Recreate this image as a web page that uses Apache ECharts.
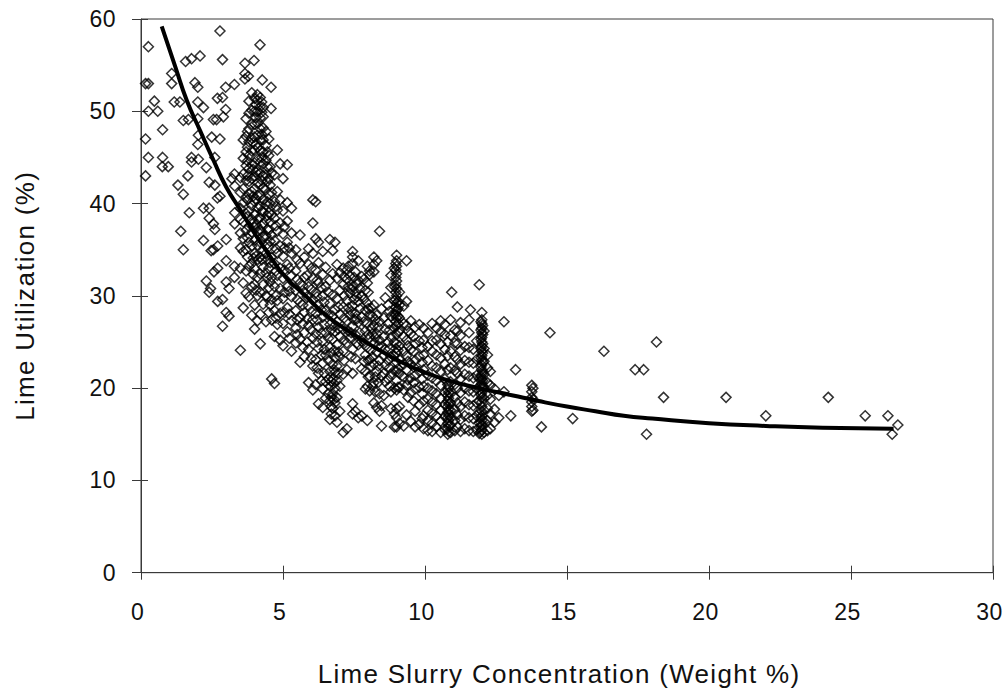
<!DOCTYPE html>
<html><head><meta charset="utf-8">
<style>html,body{margin:0;padding:0;background:#fff}#c{width:1005px;height:698px}
text[style*="26px"]{letter-spacing:1.3px}
text[style*="23px"]{letter-spacing:.4px}</style>
<script src="https://cdn.jsdelivr.net/npm/echarts@6/dist/echarts.min.js"></script></head>
<body><div id="c"></div>
<script>
const xTitle = 'Lime Slurry Concentration (Weight %)';
const yTitle = 'Lime Utilization (%)';
// each row: [x, [y values at about that x]]
const leftScatter = [
[.16,[47,43,53]],[.26,[57,53,50,45]],[.47,[51.1]],[.59,[50]],[.76,[48,45]],[.75,[44]],[.96,[44]],
[1.08,[54.1,53]],[1.17,[51]],[1.3,[42]],[1.37,[51]],[1.4,[37]],[1.49,[49,41,35]],[1.57,[55.4]],[1.65,[43]],[1.67,[49.1]],[1.7,[39]],
[1.78,[55.7,45,44.5]],[1.9,[53.1]],[2.0,[52.6,51,49.2,46.4]],[2.02,[47.4,44.8]],[2.08,[56]],[2.2,[50.4,39.5,36]],
[2.3,[43.9,31.6]],[2.4,[42.3,39.5,38.4,30.4]],[2.45,[30.8]],[2.47,[34.9]],[2.49,[47.2]],[2.55,[49.1,37.8,35]],[2.57,[32.6]],
[2.6,[45,42,37.2]],[2.66,[49.1]],[2.69,[51.4,40.6]],[2.7,[35.4,33,29.4]],[2.78,[58.7,47,40.8]],[2.87,[55.6,51.5,29.6,26.7]],
[2.9,[49.4]],[2.98,[52.6,50.2]],[3,[36.1,33.8,31.5,28.2]],[3.1,[30.8,27.8]],[3.2,[42.7]],[3.29,[52.9,43.2,33.2,32]],
[3.3,[41.9,39,37.8]],[3.66,[55.2,54.1,53.5]],[3.78,[53.8]],[3.98,[55.5]],[4.19,[57.2]],[4.27,[53.4]],[4.58,[52.6,50.3]]
];
const core4 = [
[3.5,[24.1,33,35.2,36.8,38.3,39.5,41.2,42.8]],
[3.6,[28.7,31.4,34.8,36.2,38,40.1,41.6,43.2,44.9,46.9]],
[3.7,[30.3,32.7,35,37.1,38.9,40.6,42.5,44.1,45.6,47.3,49.2]],
[3.8,[29.9,33.2,35.8,37.5,39.2,41,42.4,43.8,45.2,46.7,48.1,49.8,51.1]],
[3.9,[27.9,31,33.5,35.4,36.9,38.3,39.8,41.3,42.7,44.2,45.7,47.1,48.6,50.1,52]],
[4.0,[26.4,29,31.2,33,34.6,36,37.4,38.8,40.2,41.6,43,44.4,45.8,47.2,48.6,50,51.4]],
[4.1,[27.3,30,32,33.9,35.5,37,38.3,39.6,40.9,42.2,43.5,44.8,46.1,47.4,48.7,50,51.2,51.8]],
[4.2,[24.8,28,30.4,32.4,34.2,35.8,37.2,38.5,39.7,40.9,42.1,43.3,44.5,45.7,46.9,48.1,49.3,50.5,51.5]],
[4.3,[29.1,31.2,33.1,34.9,36.4,37.8,39.1,40.4,41.7,43,44.3,45.6,46.9,48.2,49.4,50.4]],
[4.4,[27.2,30,32.5,34.6,36.5,38.2,39.9,41.5,43.1,44.7,46.3,47.8]],
[4.5,[28.2,30.9,33,35.3,37.1,39,41,42.7,45.2,47]],
[4.6,[21,27.4,29.6,32,34.2,36.6,38.8,41.2,43.3]],
[4.7,[20.5,25.6,28.4,31,33.5,36,38.4,40.2,43.1]],
[4.8,[26.9,29.5,32.2,34.6,37,39.3,41.3,45.8]],
[4.9,[25.2,28.1,30.8,33,35.4,37.9,40.4,44.3]],
[5.0,[24.6,27,29.7,31.9,34.3,36.7,39.2,42.7]],
[5.15,[26.1,28.7,31,33.4,35.8,38.1,40.1,44.2]],
[5.3,[24,27.3,29.9,32.2,34.6,36.8,39.5]]
];
const coreExtra = [
[3.75,[34.2,36.3,38.6,40.4,43,44.6,46.1,47.8]],
[3.95,[32.3,34.1,37.9,40.8,43.7,46.6]],
[4.05,[30.6,34.3,37.7,40.5,43.4,46.4,49.3,50.7]],
[4.25,[33.9,36.9,39.2,42.5,45,47.5,49.9,51]],
[4.45,[29.9,32,34,35.6,37.2,38.7,40.2,42.4,44,45.6]],
[4.55,[29,31.5,33.6,35.9,38,40,42,44]],[4.75,[27.6,30,32.7,35.1,37.6,39.7]],[5.05,[28.2,30.4,32.8,35.2,37.5]],[5.22,[25.4,28,30.5,33,35.2]]
];
const mid5to7 = [
[5.45,[24.9,26.5,28.4,30.6,32.7,35]],
[5.6,[22.8,25.3,27.6,29.3,31.4,33.5,36.6]],
[5.75,[23.4,26,28.2,30.4,32,34.2]],
[5.9,[20.6,24.2,26.8,28.9,31,33.4,35.1]],
[6.05,[19.8,22.4,25.4,27.4,29.6,31.9,34.6,37.9,40.4]],
[6.15,[20.4,23.1,25.9,28.1,30.3,32.8,36.2,40.2]],
[6.25,[18.3,21.6,24.3,26.6,29,31.4,33.6,35.8]],
[6.4,[17.9,19.9,22.7,25.1,27.7,30,32.3,34.8]],
[6.5,[18.9,20.7,23.6,26,28.4,31,33.1]],
[6.65,[16.6,18.6,20.2,21.8,24.4,26.9,29.2,31.7,36.1]],
[6.75,[17.8,19.4,21,22.6,25.3,27.8,30.1,32.4,34.9]],
[6.83,[17,18.4,20,21.7,23.3,26.1,28.5,35.8]],
[6.9,[16.3,19,20.8,22.4,24.7,27.2,29.7,31.9,33.4]],
[7.0,[17.5,20.2,23.4,25.6,28,30.6,32.5]],
[5.5,[25.8,27.4,29.6,31.8,33.9]],[5.85,[25,27.5,29.9,32.2]],[6.35,[20.8,23.6,26,28.5,30.9]],
[6.6,[19.4,21,23,25.4,27.9,30.4]],[6.7,[17.2,18,19,20.7,23.8,26.3]],[6.8,[18.8,20.5,22,24.1,26.7]],[6.95,[21.6,23.9,26.4,28.8]]
];
const mid7to9 = [
[7.12,[15.2,21.5,24,26.4,28.8,31.2,33]],
[7.25,[15.6,22,24.9,27.3,29.5,31.8,32.8]],
[7.35,[25.4,27.9,30.3,32.2]],
[7.45,[17.2,18.3,21.6,24.2,26.7,28.9,31,33.5,34.2,34.8]],
[7.55,[17.5,23.2,25.8,28.1,30.4,32.6]],
[7.65,[16.8,24.7,27.1,29.4,31.7,33.8]],
[7.77,[17,22.1,25.1,27.7,30,32.1]],
[7.9,[19.9,21.8,23.6,26.2,28.4,30.6]],
[7.97,[16.5,20.2,24.4,27,29.2,31.4,33.2]],
[8.05,[19.7,21.3,23.1,25.4,28,32.3,32.7]],
[8.2,[18.4,20.6,22.6,24.9,26.8,29,34.2,32.6,33.4]],
[8.3,[17.9,21.8,23.9,25.9,27.9,33.8]],
[8.4,[17.5,19.4,23,25.2,27.2,37]],
[8.47,[15.9,18.1,21.3,24.5,28.6]],
[8.6,[20.7,22.5,24.2,26.4,29.8]],
[8.8,[17.8,19.6,21.5,23.4,25.5,27.8,30.9,32.2]],
[7.3,[26.2,28.7,31,33.2]],[7.5,[27.4,29.6,32]],[7.7,[26,28.6,30.8]],[8.1,[22.4,24.1,26.5,28.7]],[8.25,[19.6,21.2,25.5,27.4]],[8.7,[21,23,25,27,29]]
];
const midFill = [
[5.7,[24.4,27,29,31.1]],[6,[23.2,26.3,28.3,30.7,33]],[6.2,[22.2,25,27.4,29.9,31.7]],[6.45,[21.6,24.2,26.9,29.3]],
[7.15,[23,25.2,27.6,30,32.1]],[7.4,[23.4,26,28.3,30.7]],[7.6,[24.9,27.5,29.9,31.3]],[7.85,[22.9,24.8,27.2,29.6,31.8]],
[8,[21.2,23,25.8,28.6,30.4]],[8.15,[20.2,23.4,25.9,27.8]],[8.35,[20.6,22.4,24.6,26.6]],[8.55,[19.2,21.6,23.5,25.6,27.6]],
[8.75,[20.2,22.2,24.3,26.3,28.3]],[9.4,[19,20.9,22.9,24.6,26.2]],[9.6,[18.6,20.6,22.3,24,25.6]],[9.9,[16.7,19.4,21,22.8,24.4]]
];
const col9 = [
[8.92,[15.8,17.2,20,21.9,23.5,25,26.5,28,29.5,31,33]],
[9,[15.8,16.8,17.8,19.8,20.8,21.8,22.8,23.8,24.8,25.8,26.8,27.6,28.4,29.2,30,30.8,31.6,32.4,33.2,33.8,34.4]],
[8.97,[24.3,27.2,28,28.8,29.6,30.4,31.2,32,32.8,33.5]],
[9.05,[20.1,22.1,24.1,26.1,27,27.8,28.6,29.4]],
[9.1,[16.2,18,20.1,21.6,23.1,24.6,26.2,27.6,29,30.4]],
[9.25,[15.9,19.8,21.2,22.6,24,25.6,27,28.9]],
[9.35,[17.1,20.3,22,23.5,25.2,26.8,29.4,33.8]],
[9.5,[16.4,19.5,21.1,22.6,24.2,25.9,27.3]],
[9.65,[15.8,17.5,19.9,21.4,23,24.8,26.6]],
[9.8,[16.1,18.2,20.1,21.8,23.4,25.1,26.9]]
];
const mid10to12 = [
[9.95,[15.6,17,18.6,20.2,22,23.6,25.2,26.5]],
[10.1,[15.4,16.5,17.6,18.8,20,21.4,23,24.5,26]],
[10.25,[15.3,16.2,17.3,18.5,19.7,21.1,22.4,24,25.1,27]],
[10.4,[15.8,17,18.2,19.4,20.8,22.2,23.6,25.2,26.5]],
[10.55,[15.2,16.4,17.6,18.9,20.3,21.8,23.3,24.8,26.1,27.3]],
[10.7,[15.5,16.9,18.2,19.5,21,22.6,24.2,25.8,26.9]],
[10.8,[15,15.6,16.2,16.8,17.4,18,18.6,19.2,19.8,20.4,22,23.5,25]],
[10.83,[15.3,15.9,16.5,17.1,17.7,18.3,18.9,19.5,20.1]],
[10.9,[15.2,16,16.8,17.6,18.4,19.4,20.7,22.2,24,25.7,27.4]],
[10.94,[30.4]],
[11.05,[15.4,16.5,17.7,19,20.4,21.9,23.4,24.9,26.3]],
[11.14,[15.8,17.1,18.4,20,21.6,23.1,24.8,26.2,28.8]],
[11.25,[15.3,16.6,18,19.5,21,22.6,24.1,25.7,27.1]],
[11.4,[15.6,17,18.5,20,21.5,23,24.5]],
[11.55,[15.4,16.8,18.2,19.7,21.3,22.8,24.4,26,27.4]],
[11.6,[28.5]],
[11.7,[15.3,16.7,18.1,19.6,21.1,22.7,24.2]],
[11.82,[15.5,17,18.4,19.9,21.4,23.1,25.1]]
];
const col12 = [
[11.91,[15.1,16.2,17.4,18.6,19.8,21,31.2]],
[12,[15,15.5,16,16.5,17,17.5,18,18.5,19,19.5,20,20.5,21,21.5,22,22.5,23,23.5,24,24.5,25,25.5,26,26.5,27,27.4,28.2]],
[11.97,[15.3,15.8,16.3,16.8,19.3,20.3,21.3,22.3,23.3,24.3,25.3,26.3,27.2]],
[12.03,[20.2,20.8,21.8,22.8,23.8,24.8,25.8,26.8]],
[12.08,[15.2,16.4,17.6,18.9,20.1,21.5,22.9,24.3,26.2]],
[12.2,[15.4,16.5,17.8,19.2,20.6,22.2,23.6]],
[12.3,[15.6,17.2,18.8,20.3,21.8]],
[12.45,[16.3,17.7,19.9]],
[12.6,[16.8,19.2]],
[12.78,[27.2,19.6]]
];
const tail = [
[13.02,[17]],[13.19,[22]],[13.76,[17.5,18,18.5,19,19.6,20.3]],[13.8,[17.6,18.8,20]],[14.1,[15.8]],[14.4,[26]],[15.2,[16.7]],
[16.3,[24]],[17.4,[22]],[17.7,[22]],[17.8,[15]],[18.15,[25]],[18.4,[19]],[20.6,[19]],[22,[17]],[24.2,[19]],[25.5,[17]],
[26.3,[17]],[26.45,[15]],[26.65,[16]]
];
const curveX = [.73,1.2,1.61,2.08,2.55,3,3.48,3.95,4.43,5.1,5.83,6.4,7.24,8.4,9.6,10.76,11.9,13.1,14,15,16,17,18,20,22,24,26.5];
const curveY = [59.2,54.9,51.2,47.9,44.7,41.8,39.4,37,34.8,32,29.9,28.2,26.3,24.1,22.2,20.9,20,19.2,18.6,18,17.5,17,16.7,16.2,15.9,15.7,15.6];
const xTicks = {min:0,max:30,interval:5};
const yTicks = {min:0,max:60,interval:10};

const pts = [];
[leftScatter,core4,coreExtra,mid5to7,mid7to9,midFill,col9,mid10to12,col12,tail].forEach(g=>g.forEach(r=>r[1].forEach(y=>pts.push([r[0],y]))));
const axisColor = '#3a3a3a';
const font = 'Liberation Sans';
const chart = echarts.init(document.getElementById('c'),null,{renderer:'svg'});
const hidden = {show:false};
const ghostLine = {show:true,onZero:false,lineStyle:{opacity:0}};
chart.setOption({
  animation:false,
  grid:{left:141,right:12,top:19,bottom:125.3,outerBoundsMode:'none',show:true,borderColor:axisColor,borderWidth:1,backgroundColor:'#fff'},
  xAxis:[
   {type:'value',...xTicks,splitLine:hidden,axisLine:{onZero:false,lineStyle:{color:axisColor}},
    axisTick:{length:7,lineStyle:{color:axisColor}},
    axisLabel:{color:'#111',fontFamily:font,fontSize:23,margin:28,padding:[0,7,0,0],formatter:v=>String(v)},
    name:xTitle,nameLocation:'middle',nameGap:88,
    nameTextStyle:{color:'#111',fontFamily:font,fontSize:26,padding:[0,16,0,0]}},
   {type:'value',...xTicks,position:'bottom',splitLine:hidden,axisLine:ghostLine,axisLabel:hidden,
    axisTick:{show:true,inside:true,length:7,lineStyle:{color:axisColor}}}
  ],
  yAxis:[
   {type:'value',...yTicks,splitLine:hidden,axisLine:{onZero:false,lineStyle:{color:axisColor}},
    axisTick:{length:9,lineStyle:{color:axisColor}},
    axisLabel:{color:'#111',fontFamily:font,fontSize:23,margin:25},
    name:yTitle,nameLocation:'middle',nameGap:99,
    nameTextStyle:{color:'#111',fontFamily:font,fontSize:26,padding:[0,0,4,0]}},
   {type:'value',...yTicks,position:'left',splitLine:hidden,axisLine:ghostLine,axisLabel:hidden,
    axisTick:{show:true,inside:true,length:7,lineStyle:{color:axisColor}}}
  ],
  series:[
   {type:'scatter',data:pts,symbol:'diamond',symbolSize:10,itemStyle:{color:'transparent',borderColor:'#000',borderWidth:1.5},z:2},
   {type:'line',data:curveX.map((x,i)=>[x,curveY[i]]),smooth:true,symbol:'none',lineStyle:{color:'#000',width:4},z:3},
   {type:'scatter',xAxisIndex:1,yAxisIndex:1,data:[]}
  ]
});
</script></body></html>
